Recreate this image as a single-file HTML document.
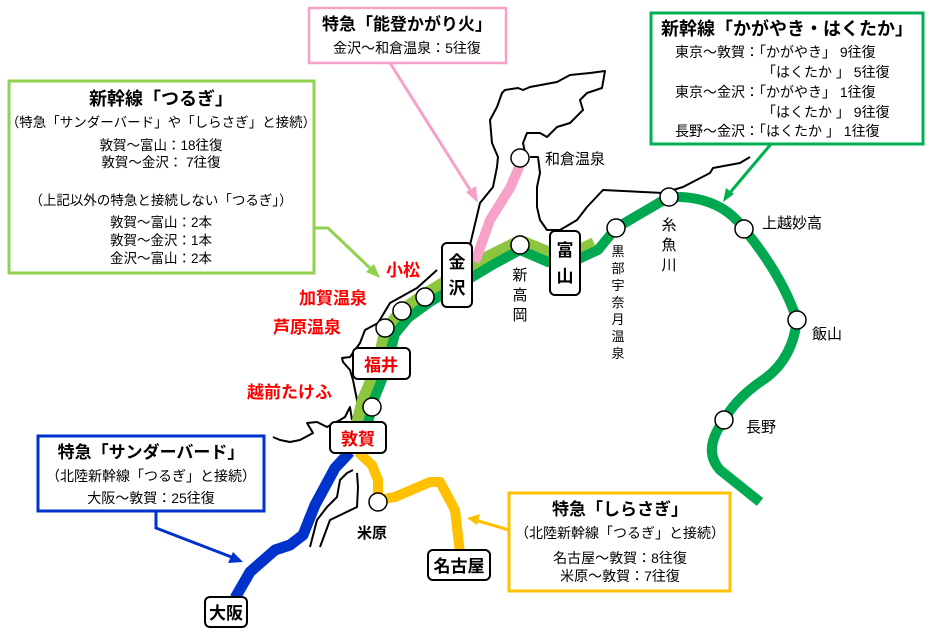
<!DOCTYPE html>
<html><head><meta charset="utf-8"><style>
html,body{margin:0;padding:0;background:#fff}
svg{display:block}
text{font-family:"Liberation Sans","Noto Sans CJK JP",sans-serif}
.b{font-weight:bold}
</style></head><body>
<svg width="952" height="638" viewBox="0 0 952 638" xmlns="http://www.w3.org/2000/svg">
<!-- coastline -->
<g fill="none" stroke="#000" stroke-width="2" stroke-linejoin="round">
<path d="M470,245 L480,203 L493,187 L497,167 L498,157 L492,143 L490,120 L497,107 L502,93 L505,90 L518,88 L523,90 L530,87 L557,82 L570,75 L590,73 L605,71 L602,88 L587,93 L580,100 L583,110 L570,123 L557,127 L547,137 L540,133 L527,133 L523,143 L525,152"/>
<path d="M530,157 L538,157 L540,173 L537,187 L537,207 L540,220 L547,230 L560,230 L577,220 L587,207 L603,190 L643,192 L663,193 L683,187 L710,173 L713,168 L740,163 L750,157"/>
<path d="M437,270 L417,288 L390,303 L378,323 L365,330 L360,343 L350,357 L342,358 L343,362 L350,370 L353,380 L357,400 L358,417"/>
<path d="M352,420 L350,407 L345,417 L340,420 L327,427 L317,422 L307,423 L313,433 L300,440 L290,442 L280,440 L273,437"/>
<path d="M353,470 L347,473 L340,480 L337,497 L327,507 L317,520 L310,547"/>
<path d="M357,473 L358,487 L357,507 L330,520 L320,547"/>
</g>
<!-- Shinkansen -->
<path d="M355,440 L365,400 L378,370 L388,330 L403,312 L426,296 L460,275 L490,258 L520,243 L550,255 L570,257 L595,245" fill="none" stroke="#8cc63f" stroke-width="16" stroke-linejoin="round"/>
<path d="M364,440 L373,402 L385,372 L395,334 L408,318 L430,302 L464,282 L494,264 L520,250 L548,262 L572,262 L598,250 L616,228 L669,197 Q720,195 744,229 Q782,275 797,320 Q792,362 760,382 Q735,400 724,420 Q702,450 720,470 L760,502" fill="none" stroke="#00a850" stroke-width="10" stroke-linejoin="round" stroke-linecap="butt"/>
<!-- Pink -->
<path d="M475,262 L490,220 L510,188 L520,165" fill="none" stroke="#f7a1c9" stroke-width="10" stroke-linejoin="round"/>
<!-- Blue -->
<path d="M350,452 L335,468 L315,505 L303,535 L290,545 L275,550 L250,572 L235,598" fill="none" stroke="#0033cc" stroke-width="11" stroke-linejoin="round"/>
<!-- Yellow -->
<path d="M358,452 L372,465 L378,480 L378,500 L395,497 L430,482 L440,482 L455,510 L460,553" fill="none" stroke="#ffc000" stroke-width="10" stroke-linejoin="round"/>
<!-- stations -->
<g fill="#fff" stroke="#000" stroke-width="1.5">
<circle cx="520" cy="158" r="9"/>
<circle cx="520" cy="245" r="9"/>
<circle cx="616" cy="228" r="9"/>
<circle cx="669" cy="197" r="9"/>
<circle cx="744" cy="229" r="9"/>
<circle cx="797" cy="320" r="9"/>
<circle cx="724" cy="420" r="9"/>
<circle cx="425" cy="297" r="9"/>
<circle cx="402" cy="311" r="9"/>
<circle cx="385" cy="328" r="9"/>
<circle cx="372" cy="407" r="9"/>
<circle cx="378" cy="502" r="9"/>
</g>
<!-- station boxes -->
<g fill="#fff" stroke="#000" stroke-width="2">
<rect x="442" y="243" width="30" height="64" rx="5"/>
<rect x="550" y="231" width="30" height="64" rx="5"/>
<rect x="353" y="348" width="57" height="31" rx="5"/>
<rect x="330" y="422" width="56" height="31" rx="5"/>
<rect x="205" y="597" width="42" height="30" rx="5"/>
<rect x="428" y="550" width="62" height="30" rx="5"/>
</g>
<g class="b" font-size="17" text-anchor="middle">
<text x="457" y="268">金</text><text x="457" y="294">沢</text>
<text x="565" y="256">富</text><text x="565" y="282">山</text>
<text x="381" y="371" fill="#e00">福井</text>
<text x="358" y="445" fill="#e00">敦賀</text>
<text x="226" y="619">大阪</text>
<text x="459" y="572">名古屋</text>
</g>
<g class="b" font-size="17" fill="#ff0000">
<text x="386" y="276">小松</text>
<text x="299" y="304">加賀温泉</text>
<text x="273" y="333">芦原温泉</text>
<text x="247" y="398">越前たけふ</text>
</g>
<g font-size="15" fill="#000">
<text x="545" y="164">和倉温泉</text>
<text x="762" y="228">上越妙高</text>
<text x="812" y="339">飯山</text>
<text x="746" y="432">長野</text>
<text x="357" y="538" class="b">米原</text>
</g>
<g font-size="15" text-anchor="middle">
<text x="520" y="280">新</text><text x="520" y="300">高</text><text x="520" y="320">岡</text>
<text x="669" y="230">糸</text><text x="669" y="250">魚</text><text x="669" y="270">川</text>
</g>
<g font-size="13" text-anchor="middle">
<text x="618" y="256">黒</text><text x="618" y="273">部</text><text x="618" y="290">宇</text><text x="618" y="307">奈</text><text x="618" y="324">月</text><text x="618" y="341">温</text><text x="618" y="358">泉</text>
</g>
<!-- callout boxes -->
<rect x="309" y="8" width="197" height="55" fill="#fff" stroke="#f7a1c9" stroke-width="2.5"/>
<text x="407" y="30" class="b" font-size="17" text-anchor="middle">特急「能登かがり火」</text>
<text x="407" y="53" font-size="14" text-anchor="middle">金沢～和倉温泉：5往復</text>
<path d="M390,63 L474,196" stroke="#f7a1c9" stroke-width="3" fill="none"/>
<path d="M478,203 L466,192 L476,186 Z" fill="#f7a1c9"/>

<rect x="9" y="81" width="305" height="192" fill="#fff" stroke="#92d050" stroke-width="3"/>
<g text-anchor="middle" font-size="13.5">
<text x="161" y="105" class="b" font-size="18">新幹線「つるぎ」</text>
<text x="161" y="127">（特急「サンダーバード」や「しらさぎ」と接続）</text>
<text x="161" y="150">敦賀～富山：18往復</text>
<text x="161" y="167">敦賀～金沢：  7往復</text>
<text x="161" y="205">（上記以外の特急と接続しない「つるぎ」）</text>
<text x="161" y="227">敦賀～富山：2本</text>
<text x="161" y="245">敦賀～金沢：1本</text>
<text x="161" y="263">金沢～富山：2本</text>
</g>
<path d="M314,228 L328,228 L372,270" stroke="#92d050" stroke-width="3" fill="none"/>
<path d="M380,278 L366,272 L374,264 Z" fill="#92d050"/>

<rect x="651" y="13" width="272" height="131" fill="#fff" stroke="#00b050" stroke-width="3"/>
<text x="787" y="35" class="b" font-size="18" text-anchor="middle">新幹線「かがやき・はくたか」</text>
<g font-size="14">
<text x="675" y="57">東京～敦賀：「かがやき」 9往復</text>
<text x="762" y="77">「はくたか 」 5往復</text>
<text x="675" y="97">東京～金沢：「かがやき」 1往復</text>
<text x="762" y="117">「はくたか 」 9往復</text>
<text x="675" y="136">長野～金沢：「はくたか 」 1往復</text>
</g>
<path d="M771,144 L728,195" stroke="#00b050" stroke-width="3" fill="none"/>
<path d="M723,202 L726,188 L734,194 Z" fill="#00b050"/>

<rect x="38" y="436" width="226" height="75" fill="#fff" stroke="#0033cc" stroke-width="3"/>
<g text-anchor="middle">
<text x="151" y="458" class="b" font-size="17">特急「サンダーバード」</text>
<text x="151" y="481" font-size="14">（北陸新幹線「つるぎ」と接続）</text>
<text x="151" y="503" font-size="14">大阪～敦賀：25往復</text>
</g>
<path d="M156,511 L156,528 L234,558" stroke="#0033cc" stroke-width="3" fill="none"/>
<path d="M243,562 L228,563 L233,552 Z" fill="#0033cc"/>

<rect x="509" y="493" width="221" height="98" fill="#fff" stroke="#ffc000" stroke-width="3"/>
<g text-anchor="middle">
<text x="620" y="515" class="b" font-size="17">特急「しらさぎ」</text>
<text x="620" y="538" font-size="14">（北陸新幹線「つるぎ」と接続）</text>
<text x="620" y="563" font-size="14">名古屋～敦賀：8往復</text>
<text x="620" y="581" font-size="14">米原～敦賀：7往復</text>
</g>
<path d="M509,530 L475,520" stroke="#ffc000" stroke-width="3" fill="none"/>
<path d="M467,518 L480,514 L477,525 Z" fill="#ffc000"/>
</svg>
</body></html>
